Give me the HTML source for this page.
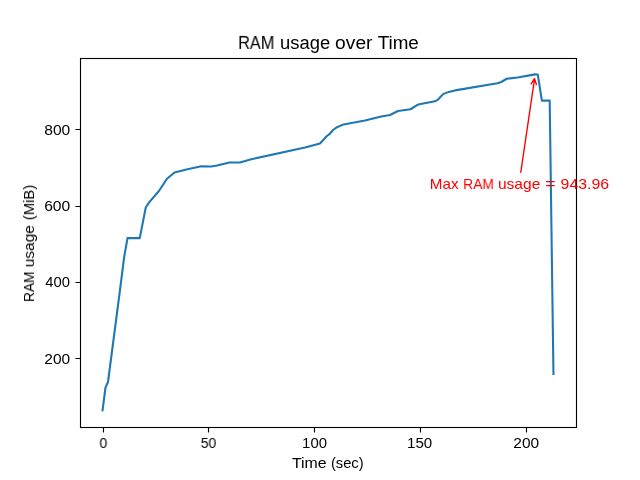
<!DOCTYPE html>
<html lang="en"><head><meta charset="utf-8"><title>RAM usage over Time</title>
<style>
html,body{margin:0;padding:0;background:#fff;}
body{width:640px;height:480px;position:relative;overflow:hidden;font-family:"Liberation Sans",sans-serif;}
svg{position:absolute;left:0;top:0;display:block;}
.t{will-change:transform;position:absolute;left:0;top:0;white-space:nowrap;line-height:1;transform-origin:0 0;}
</style></head><body>
<svg width="640" height="480" viewBox="0 0 640 480">
<defs><clipPath id="c"><rect x="80" y="58" width="497" height="370"/></clipPath></defs>
<polyline clip-path="url(#c)" fill="none" stroke="#1f77b4" stroke-width="2.083" stroke-linejoin="round" stroke-linecap="square" points="102.55,410.40 105.50,387.50 108.00,382.00 120.00,290.00 124.00,258.10 127.50,238.10 139.75,238.10 145.75,207.50 149.50,201.90 158.75,191.25 167.00,178.75 174.50,172.50 187.50,169.25 201.25,166.25 211.25,166.50 217.00,165.50 229.50,162.50 240.00,162.50 251.25,159.25 305.00,147.50 320.00,143.50 326.90,136.00 329.40,134.20 333.10,130.00 337.00,127.20 343.50,124.40 365.00,120.50 381.25,116.50 390.00,115.00 398.00,111.00 410.50,109.25 417.50,104.80 420.60,104.00 435.00,101.30 438.30,99.30 443.10,94.10 448.75,91.90 455.00,90.40 497.50,83.25 501.25,82.00 506.75,78.75 517.50,77.50 535.10,74.40 537.80,74.55 541.90,100.60 549.70,100.60 553.45,374.00"/>
<path d="M103.5 428V432.50M208.5 428V432.50M314.5 428V432.50M420.5 428V432.50M526.5 428V432.50M80 358.5H75.50M80 282.5H75.50M80 206.5H75.50M80 129.5H75.50" stroke="#000" stroke-width="1.11" fill="none"/>
<rect x="80.5" y="58.5" width="496" height="369" fill="none" stroke="#000" stroke-width="1.11"/>
<path d="M520.80 172.25L534.57 78.6M531.13 83.8L534.57 78.6L536.36 84.56" fill="none" stroke="#f00" stroke-width="1.39" stroke-linecap="round" stroke-linejoin="round"/>
</svg>
<div class="g" style="font-size:17.10px;color:#000"><span class="t" style="transform:translate(238.171px,34.000px) scale(0.9536,1.0750)">RAM</span> <span class="t" style="transform:translate(280.054px,34.000px) scale(1.0764,1.0750)">usage</span> <span class="t" style="transform:translate(335.106px,34.000px) scale(1.1236,1.0750)">over</span> <span class="t" style="transform:translate(377.647px,34.000px) scale(1.1024,1.0750)">Time</span></div>
<div class="g" style="font-size:14.10px;color:#000"><span class="t" style="transform:translate(291.908px,456.000px) scale(1.1244,1.0000)">Time</span> <span class="t" style="transform:translate(330.931px,456.000px) scale(1.0442,1.0000)">(sec)</span></div>
<div class="g" style="font-size:14.10px;color:#000"><span class="t" style="transform:translate(22.000px,302.053px) rotate(-90deg) scale(0.9791,1.0000)">RAM</span> <span class="t" style="transform:translate(22.000px,267.321px) rotate(-90deg) scale(1.0999,1.0000)">usage</span> <span class="t" style="transform:translate(22.000px,220.225px) rotate(-90deg) scale(1.0508,1.0000)">(MiB)</span></div>
<div class="g" style="font-size:14.10px;color:#f00"><span class="t" style="transform:translate(429.846px,177.000px) scale(1.0777,1.0000)">Max</span> <span class="t" style="transform:translate(463.214px,177.000px) scale(0.9791,1.0000)">RAM</span> <span class="t" style="transform:translate(497.941px,177.000px) scale(1.1026,1.0000)">usage</span> <span class="t" style="transform:translate(545.189px,177.000px) scale(1.2521,1.0000)">=</span> <span class="t" style="transform:translate(560.611px,177.000px) scale(1.1249,1.0000)">943.96</span></div>
<div class="g" style="font-size:14.10px;color:#000"><span class="t" style="transform:translate(99.489px,436.000px) scale(0.9869,1.0000)">0</span></div>
<div class="g" style="font-size:14.10px;color:#000"><span class="t" style="transform:translate(200.707px,436.000px) scale(0.9969,1.0000)">50</span></div>
<div class="g" style="font-size:14.10px;color:#000"><span class="t" style="transform:translate(302.109px,436.000px) scale(1.0590,1.0000)">100</span></div>
<div class="g" style="font-size:14.10px;color:#000"><span class="t" style="transform:translate(406.971px,436.000px) scale(1.0730,1.0000)">150</span></div>
<div class="g" style="font-size:14.10px;color:#000"><span class="t" style="transform:translate(513.311px,436.000px) scale(1.0996,1.0000)">200</span></div>
<div class="g" style="font-size:14.10px;color:#000"><span class="t" style="transform:translate(44.311px,352.000px) scale(1.0996,1.0000)">200</span></div>
<div class="g" style="font-size:14.10px;color:#000"><span class="t" style="transform:translate(45.193px,275.000px) scale(1.0490,1.0000)">400</span></div>
<div class="g" style="font-size:14.10px;color:#000"><span class="t" style="transform:translate(44.143px,199.000px) scale(1.1107,1.0000)">600</span></div>
<div class="g" style="font-size:14.10px;color:#000"><span class="t" style="transform:translate(44.226px,123.000px) scale(1.1080,1.0000)">800</span></div>
</body></html>
